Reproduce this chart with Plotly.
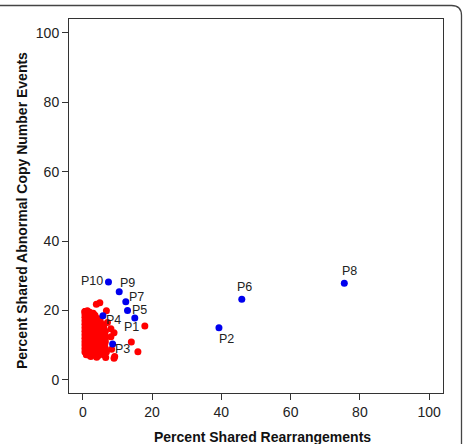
import plotly.graph_objects as go

# Blue labelled points (percent shared rearrangements, percent shared CN events)
blue_labels = ["P1", "P2", "P3", "P4", "P5", "P6", "P7", "P8", "P9", "P10"]
blue_x = [15.0, 39.3, 8.6, 5.8, 12.9, 45.9, 12.4, 75.5, 10.5, 7.4]
blue_y = [17.8, 15.0, 10.3, 18.5, 20.0, 23.2, 22.5, 27.8, 25.4, 28.2]

# Red background points
red_x = [
    0.6, 1.3, 2.0, 3.0,
    0.6, 1.5, 2.5, 3.5, 0.9,
    0.6, 1.5, 2.5, 3.5, 4.5,
    0.6, 1.2, 2.0, 3.0, 4.0, 5.0,
    0.6, 1.5, 2.5, 3.5, 4.5, 5.5,
    0.6, 1.3, 2.3, 3.3, 4.3, 5.3, 6.0,
    0.6, 1.5, 2.5, 3.5, 4.5, 5.5, 6.5,
    0.6, 1.3, 2.3, 3.3, 4.3, 5.3, 6.3,
    0.6, 1.5, 2.5, 3.5, 4.5, 5.5, 6.5,
    0.6, 1.3, 2.3, 3.3, 4.3, 5.3, 6.5,
    0.6, 1.5, 2.5, 3.5, 4.5, 5.5, 6.3,
    0.6, 1.3, 2.3, 3.3, 4.3, 5.5, 6.5,
    0.6, 1.5, 2.5, 3.5, 5.0, 6.8,
    1.0, 2.0, 3.1, 4.5, 6.0,
    3.9, 4.9, 6.8, 0.6, 17.9, 8.1, 9.0, 7.1, 14.0, 15.9,
    9.0, 6.6, 4.0, 2.3, 8.3, 8.1, 9.2,
]
red_y = [
    19.7, 19.9, 19.5, 19.2,
    19.0, 18.8, 19.0, 18.6, 18.2,
    18.0, 18.0, 17.8, 18.0, 17.6,
    17.0, 17.2, 17.0, 17.0, 16.8, 17.0,
    16.0, 16.2, 16.0, 16.0, 16.2, 16.0,
    15.0, 15.2, 15.0, 15.0, 15.0, 15.2, 15.4,
    14.0, 14.2, 14.0, 14.0, 14.0, 14.2, 14.0,
    13.0, 13.2, 13.0, 13.0, 13.0, 13.2, 13.0,
    12.0, 12.0, 12.2, 12.0, 12.0, 12.0, 12.0,
    11.0, 11.2, 11.0, 11.0, 11.0, 11.2, 11.0,
    10.0, 10.0, 10.2, 10.0, 10.0, 10.0, 10.2,
    9.0, 9.2, 9.0, 9.0, 9.0, 9.2, 9.0,
    8.0, 8.0, 8.2, 8.0, 8.0, 8.0,
    7.2, 7.0, 7.2, 7.0, 7.2,
    21.8, 22.2, 19.9, 19.7, 15.5, 14.7, 13.6, 16.5, 10.9, 8.1,
    6.2, 6.4, 6.5, 6.7, 8.8, 12.4, 6.7,
]

# label offsets (pixels) for each blue point
label_dx = [-3, 8, 10, 11, 12, 3, 11, 5, 8, -16]
label_dy = [-9, -11, -5, -4, 0, 12, 5, 12, 9, 1]

x_ticks = [0, 20, 40, 60, 80, 100]
y_ticks = [0, 20, 40, 60, 80, 100]

W, H = 463, 444
L, R, T, B = 69, 20, 19, 51
pw, ph = W - L - R, H - T - B

FONT = "Liberation Sans, Arial, Helvetica, sans-serif"

fig = go.Figure()
fig.add_trace(go.Scatter(x=red_x, y=red_y, mode="markers",
                         marker=dict(color="#FF0000", size=7, line=dict(width=0)),
                         showlegend=False, hoverinfo="skip"))
fig.add_trace(go.Scatter(x=blue_x, y=blue_y, mode="markers",
                         marker=dict(color="#0000EE", size=7, line=dict(width=0)),
                         showlegend=False, hoverinfo="skip"))

annotations = []
for lab, x, y, dx, dy in zip(blue_labels, blue_x, blue_y, label_dx, label_dy):
    annotations.append(dict(x=x, y=y, xref="x", yref="y", text=lab, showarrow=False,
                            xshift=dx, yshift=dy, xanchor="center", yanchor="middle",
                            font=dict(family=FONT, size=12.5, color="#222")))


def px_to_paper_x(px):
    return (px - L) / pw


def px_to_paper_y(py):
    return (H - B - py) / ph


annotations.append(dict(x=px_to_paper_x(262), y=px_to_paper_y(437), xref="paper", yref="paper",
                        text="<b>Percent Shared Rearrangements</b>", showarrow=False,
                        xanchor="center", yanchor="middle",
                        font=dict(family=FONT, size=14, color="#111")))
annotations.append(dict(x=px_to_paper_x(22), y=px_to_paper_y(211), xref="paper", yref="paper",
                        text="<b>Percent Shared Abnormal Copy Number Events</b>", showarrow=False,
                        textangle=-90, xanchor="center", yanchor="middle",
                        font=dict(family=FONT, size=14, color="#111")))

# outer rounded frame
lft, rgt, top, bot, rad = -10, 461.5, 5.5, 460, 10
fx = px_to_paper_x
fy = px_to_paper_y
path = (f"M {fx(lft)},{fy(top)} L {fx(rgt - rad)},{fy(top)} "
        f"Q {fx(rgt)},{fy(top)} {fx(rgt)},{fy(top + rad)} L {fx(rgt)},{fy(bot)}")
shapes = [dict(type="path", xref="paper", yref="paper", path=path,
               line=dict(color="#444", width=1.3))]

axis_common = dict(showgrid=False, zeroline=False, showline=True, mirror=True,
                   linecolor="#333", linewidth=1, ticks="outside", ticklen=6,
                   tickcolor="#333", tickwidth=1,
                   tickfont=dict(family=FONT, size=14, color="#222"))

fig.update_layout(
    width=W, height=H,
    margin=dict(l=L, r=R, t=T, b=B, pad=0),
    paper_bgcolor="white", plot_bgcolor="white",
    xaxis=dict(range=[-4, 104], tickvals=x_ticks, ticktext=[str(v) for v in x_ticks], **axis_common),
    yaxis=dict(range=[-3.8, 104], tickvals=y_ticks, ticktext=[str(v) for v in y_ticks], **axis_common),
    annotations=annotations, shapes=shapes,
)

fig.write_html("out.html")
